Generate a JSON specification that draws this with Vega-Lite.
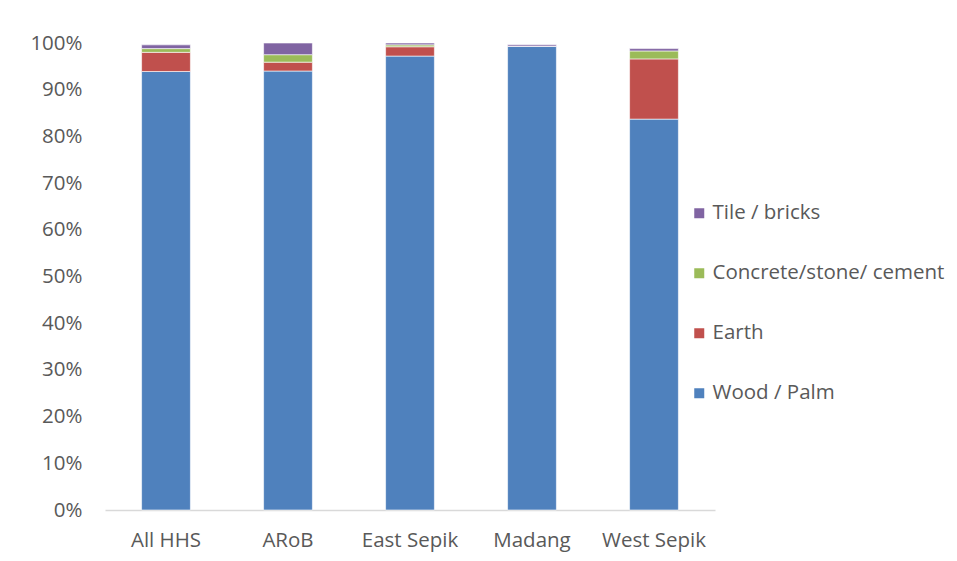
{
  "$schema": "https://vega.github.io/schema/vega-lite/v6.json",
  "autosize": "none",
  "width": 610,
  "height": 467,
  "padding": {"left": 105, "top": 43, "right": 242, "bottom": 51},
  "background": "white",
  "data": {
    "values": [
      {"region": "All HHS", "material": "Wood / Palm", "rank": 1, "share": 0.939},
      {"region": "All HHS", "material": "Earth", "rank": 2, "share": 0.041},
      {"region": "All HHS", "material": "Concrete/stone/ cement", "rank": 3, "share": 0.008},
      {"region": "All HHS", "material": "Tile / bricks", "rank": 4, "share": 0.008},
      {"region": "ARoB", "material": "Wood / Palm", "rank": 1, "share": 0.940},
      {"region": "ARoB", "material": "Earth", "rank": 2, "share": 0.019},
      {"region": "ARoB", "material": "Concrete/stone/ cement", "rank": 3, "share": 0.016},
      {"region": "ARoB", "material": "Tile / bricks", "rank": 4, "share": 0.025},
      {"region": "East Sepik", "material": "Wood / Palm", "rank": 1, "share": 0.972},
      {"region": "East Sepik", "material": "Earth", "rank": 2, "share": 0.020},
      {"region": "East Sepik", "material": "Concrete/stone/ cement", "rank": 3, "share": 0.004},
      {"region": "East Sepik", "material": "Tile / bricks", "rank": 4, "share": 0.004},
      {"region": "Madang", "material": "Wood / Palm", "rank": 1, "share": 0.993},
      {"region": "Madang", "material": "Earth", "rank": 2, "share": 0.0},
      {"region": "Madang", "material": "Concrete/stone/ cement", "rank": 3, "share": 0.0},
      {"region": "Madang", "material": "Tile / bricks", "rank": 4, "share": 0.003},
      {"region": "West Sepik", "material": "Wood / Palm", "rank": 1, "share": 0.837},
      {"region": "West Sepik", "material": "Earth", "rank": 2, "share": 0.129},
      {"region": "West Sepik", "material": "Concrete/stone/ cement", "rank": 3, "share": 0.017},
      {"region": "West Sepik", "material": "Tile / bricks", "rank": 4, "share": 0.005}
    ]
  },
  "mark": {"type": "bar", "stroke": "white", "strokeWidth": 1, "strokeOpacity": 0.6},
  "encoding": {
    "x": {
      "field": "region",
      "type": "nominal",
      "sort": null,
      "scale": {"paddingInner": 0.6, "paddingOuter": 0.3},
      "axis": {
        "title": null,
        "labelAngle": 0,
        "ticks": false,
        "domainColor": "#d9d9d9",
        "domainWidth": 1.5,
        "labelPadding": 20
      }
    },
    "y": {
      "field": "share",
      "type": "quantitative",
      "stack": "zero",
      "scale": {"domain": [0, 1]},
      "axis": {
        "title": null,
        "format": ".0%",
        "values": [0, 0.1, 0.2, 0.3, 0.4, 0.5, 0.6, 0.7, 0.8, 0.9, 1],
        "domain": false,
        "ticks": false,
        "grid": false,
        "labelPadding": 23
      }
    },
    "color": {
      "field": "material",
      "type": "nominal",
      "scale": {
        "domain": ["Wood / Palm", "Earth", "Concrete/stone/ cement", "Tile / bricks"],
        "range": ["#4f81bd", "#c0504d", "#9bbb59", "#8064a2"]
      },
      "legend": {
        "title": null,
        "values": ["Tile / bricks", "Concrete/stone/ cement", "Earth", "Wood / Palm"],
        "orient": "none",
        "legendX": 584,
        "legendY": 160,
        "symbolType": "square",
        "symbolSize": 100,
        "symbolStrokeWidth": 0,
        "labelOffset": 3,
        "rowPadding": 39,
        "labelFontSize": 20.5,
        "labelFont": "Open Sans",
        "labelColor": "#595959",
        "labelLimit": 400
      }
    },
    "order": {"field": "rank", "type": "quantitative", "sort": "ascending"}
  },
  "config": {
    "view": {"stroke": null},
    "axis": {
      "labelFont": "Open Sans",
      "labelFontSize": 20.5,
      "labelColor": "#595959"
    }
  }
}
